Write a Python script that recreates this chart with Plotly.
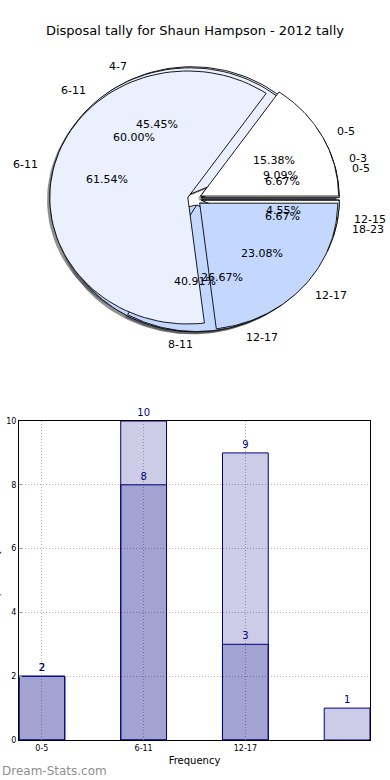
import numpy as np
import plotly.graph_objects as go

# ---------------- data ----------------
title_text = "Disposal tally for Shaun Hampson - 2012 tally"

# three overlaid pies (drawn in this order, last on top)
pie_a_labels = ["0-3", "4-7", "8-11", "12-15"]
pie_a_values = [2, 10, 9, 1]
pie_b_labels = ["0-5", "6-11", "12-17", "18-23"]
pie_b_values = [1, 9, 4, 1]
pie_c_labels = ["0-5", "6-11", "12-17"]
pie_c_values = [2, 8, 3]

# bar chart
bar_categories = ["0-5", "6-11", "12-17", ""]
bar_light = [2, 10, 9, 1]
bar_dark = [2, 8, 3]
y_ticks = [0, 2, 4, 6, 8, 10]

# ---------------- style ----------------
FONT = "DejaVu Sans"
CX, CY, RX, RY = 194.5, 199, 138, 126.5   # pie geometry in pixel-like axis units
EXPL = 0.05
PIE_COLORS = ["#FFFFFF", "#EAF0FE", "#C4D8FF"]
NAVY = "#000080"

fig = go.Figure()
annotations = []


def pie_parts(values):
    total = float(sum(values))
    start = 0.0
    parts = []
    for i, v in enumerate(values):
        span = 360.0 * v / total
        parts.append((start, start + span, 100.0 * v / total, i))
        start += span
    return parts


pies = [(pie_a_labels, pie_a_values), (pie_b_labels, pie_b_values), (pie_c_labels, pie_c_values)]

# shadows first (below every wedge)
for labels, values in pies:
    for t1, t2, pct, i in pie_parts(values):
        mid = np.deg2rad((t1 + t2) / 2)
        ox = EXPL * RX * np.cos(mid) - 0.02 * RX
        oy = -EXPL * RY * np.sin(mid) + 0.02 * RY
        th = np.deg2rad(np.linspace(t1, t2, 80))
        xs = np.concatenate([[CX + ox], CX + ox + RX * np.cos(th), [CX + ox]])
        ys = np.concatenate([[CY + oy], CY + oy - RY * np.sin(th), [CY + oy]])
        fig.add_trace(go.Scatter(x=xs, y=ys, mode="lines", fill="toself",
                                 fillcolor="rgba(55,55,60,0.55)", line=dict(width=0),
                                 hoverinfo="skip", showlegend=False, xaxis="x", yaxis="y"))

# wedges
for labels, values in pies:
    for t1, t2, pct, i in pie_parts(values):
        mid = np.deg2rad((t1 + t2) / 2)
        ox = EXPL * RX * np.cos(mid)
        oy = -EXPL * RY * np.sin(mid)
        th = np.deg2rad(np.linspace(t1, t2, 80))
        xs = np.concatenate([[CX + ox], CX + ox + RX * np.cos(th), [CX + ox]])
        ys = np.concatenate([[CY + oy], CY + oy - RY * np.sin(th), [CY + oy]])
        fig.add_trace(go.Scatter(x=xs, y=ys, mode="lines", fill="toself",
                                 fillcolor=PIE_COLORS[i % 3], line=dict(color="black", width=0.9),
                                 name=labels[i], hoverinfo="name", showlegend=False,
                                 xaxis="x", yaxis="y"))

# pie texts (on top)
for labels, values in pies:
    for t1, t2, pct, i in pie_parts(values):
        mid = np.deg2rad((t1 + t2) / 2)
        c, s = np.cos(mid), np.sin(mid)
        ox = EXPL * RX * c
        oy = -EXPL * RY * s
        annotations.append(dict(x=CX + ox + 0.6 * RX * c, y=CY + oy - 0.6 * RY * s,
                                xref="x", yref="y", text="%.2f%%" % pct, showarrow=False,
                                xanchor="center", yanchor="middle",
                                font=dict(family=FONT, size=11, color="black")))
        lx = ox + 1.1 * RX * c
        annotations.append(dict(x=CX + lx, y=CY + oy - 1.1 * RY * s,
                                xref="x", yref="y", text=labels[i], showarrow=False,
                                xanchor="left" if lx > 0 else "right", yanchor="middle",
                                font=dict(family=FONT, size=11, color="black")))

# bars
xpos = list(range(len(bar_categories)))
fig.add_trace(go.Bar(x=xpos, y=bar_light, width=0.45,
                     marker=dict(color="rgba(0,0,128,0.2)", line=dict(color=NAVY, width=1)),
                     text=[str(v) for v in bar_light], textposition="outside",
                     textfont=dict(family=FONT, size=10, color=NAVY), cliponaxis=False,
                     showlegend=False, xaxis="x2", yaxis="y2"))
fig.add_trace(go.Bar(x=xpos[:len(bar_dark)], y=bar_dark, width=0.45,
                     marker=dict(color="rgba(0,0,128,0.2)", line=dict(color=NAVY, width=1)),
                     text=[str(v) for v in bar_dark], textposition="outside",
                     textfont=dict(family=FONT, size=10, color=NAVY), cliponaxis=False,
                     showlegend=False, xaxis="x2", yaxis="y2"))

# watermark & clipped y title
annotations.append(dict(x=0, y=9 / 780, xref="paper", yref="paper", text="Dream-Stats.com",
                        showarrow=False, xanchor="left", yanchor="middle",
                        font=dict(family=FONT, size=12, color="#8f8f8f")))
annotations.append(dict(x=3 / 390, y=(780 - 580) / 780, xref="paper", yref="paper",
                        text="Disposal Tally", textangle=-90, showarrow=False,
                        xanchor="right", yanchor="middle",
                        font=dict(family=FONT, size=9, color="black")))

H = 780.0
GRID = dict(showgrid=True, gridcolor="#b4b4b4", griddash="1px,2px", gridwidth=1)
fig.update_layout(
    width=390, height=780,
    margin=dict(l=0, r=0, t=0, b=0, autoexpand=False),
    paper_bgcolor="white", plot_bgcolor="white",
    barmode="overlay",
    title=dict(text=title_text, x=0.5, xanchor="center", y=1 - 30 / H, yanchor="middle",
               font=dict(family=FONT, size=13, color="black")),
    xaxis=dict(domain=[0, 1], range=[0, 390], visible=False, fixedrange=True, automargin=False),
    yaxis=dict(domain=[0.5, 1], range=[390, 0], visible=False, fixedrange=True, automargin=False),
    xaxis2=dict(domain=[19 / 390, 370 / 390], range=[-0.225, 3.225], anchor="y2",
                automargin=False,
                tickmode="array", tickvals=xpos[:3], ticktext=bar_categories[:3],
                tickfont=dict(family=FONT, size=8, color="black"),
                showline=True, linecolor="black", linewidth=1, mirror=True,
                ticks="inside", ticklen=3, tickcolor="#999999", zeroline=False,
                title=dict(text="Frequency", standoff=5,
                           font=dict(family=FONT, size=10, color="black")), **GRID),
    yaxis2=dict(domain=[(H - 740) / H, (H - 421) / H], range=[0, 10], anchor="x2",
                automargin=False,
                tickmode="array", tickvals=y_ticks,
                tickfont=dict(family=FONT, size=8, color="black"),
                showline=True, linecolor="black", linewidth=1, mirror=True,
                ticks="inside", ticklen=3, tickcolor="#999999", zeroline=False, **GRID),
    annotations=annotations,
)

fig.write_html("out.html", config={"displayModeBar": False},
               post_script="document.body.style.margin='0';document.body.style.overflow='hidden';")
